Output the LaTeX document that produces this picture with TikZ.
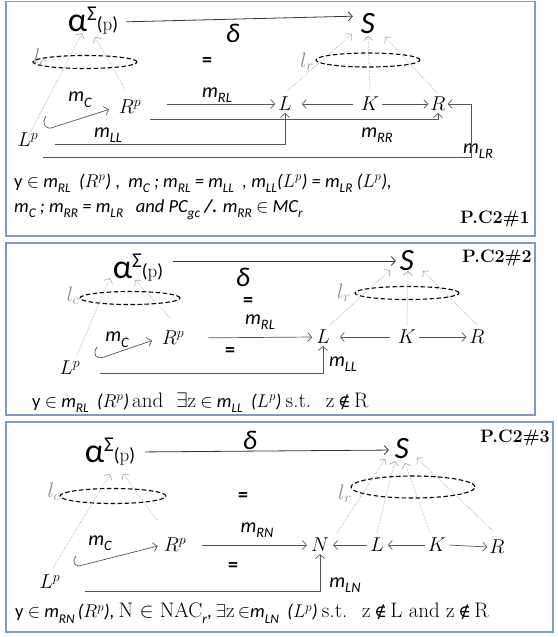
\RequirePackage{fix-cm}
\documentclass[tikz,border=0pt]{standalone}
\usepackage{fontspec}
\usepackage{graphicx}
\usetikzlibrary{arrows.meta,shapes.geometric}
\newfontfamily\cb{Carlito}
\newfontfamily\dvs{DejaVu Serif}
\definecolor{frame}{RGB}{125,155,195}
\definecolor{lncol}{RGB}{85,85,85}
\definecolor{dotcol}{RGB}{160,160,160}
\newcommand\sbs[1]{\raisebox{-0.28em}{\scalebox{0.72}{#1}}}
\newcommand\ms[1]{{\cb\itshape m\sbs{#1}}}
\newcommand\rmt[1]{{\rmfamily\fontsize{21}{22}\selectfont #1}}
\newcommand\nin{{\dvs\fontsize{17}{20}\selectfont ∉}}
\newcommand\alphasig{{\cb\fontsize{34}{34}\selectfont α}\raisebox{11pt}{\cb\fontsize{21}{21}\selectfont Σ}\raisebox{1pt}{\cb\fontsize{19}{19}\selectfont(\rmfamily p\cb)}}
\begin{document}
\begin{tikzpicture}[x=1pt,y=-1pt,
  panel/.style={draw=frame,line width=1.3pt},
  lab/.style={font={\cb\itshape\fontsize{20}{22}\selectfont},inner sep=0pt},
  obj/.style={font={\fontsize{20}{22}\selectfont},inner sep=2pt},
  gl/.style={font={\fontsize{21}{22}\selectfont},text=black!45,inner sep=0pt},
  eqs/.style={font={\cb\bfseries\fontsize{20}{20}\selectfont},inner sep=0pt},
  big/.style={font={\cb\itshape\fontsize{31}{32}\selectfont},inner sep=0pt},
  dlt/.style={font={\cb\itshape\fontsize{27}{28}\selectfont},inner sep=0pt},
  alph/.style={inner sep=0pt},
  txt/.style={font={\cb\fontsize{18.5}{21}\selectfont},inner sep=0pt,anchor=west},
  pc/.style={font={\bfseries\fontsize{18}{20}\selectfont},inner sep=0pt,anchor=east},
  ell/.style={draw,ellipse,dash pattern=on 4.5pt off 2.5pt,line width=1.1pt,inner sep=0pt},
  arr/.style={draw=lncol,line width=0.7pt,-{Straight Barb[length=4pt,width=9pt]}},
  garr/.style={draw=black!80,line width=0.8pt,-{Straight Barb[length=4pt,width=9pt]}},
  dot/.style={draw=dotcol,line width=0.6pt,densely dotted,-{Straight Barb[length=4pt,width=9pt]}},
  hook/.style={draw=lncol,line width=0.7pt,-{Straight Barb[length=4pt,width=9pt]}}]
\useasboundingbox (0,0) rectangle (557,637);
% ---------------- panel frames
\draw[panel] (6,1.5) rectangle (535,236);
\draw[panel] (6,243) rectangle (535,415);
\draw[panel] (6,422) rectangle (553,632);

% ================= PANEL 1
\node[alph] (al1) at (93,21) {\alphasig};
\node[big] (S1) at (368,24) {S};
\node[dlt] (dl1) at (233,33) {δ};
\node[eqs] (eq1) at (207,62) {=};
\node[lab] (mRL1) at (217,95) {\ms{RL}};
\node[ell,minimum width=104pt,minimum height=13pt] (ec1) at (85,62) {};
\node[gl] (lc1) at (40,58) {$l_c$};
\node[ell,minimum width=104pt,minimum height=14pt] (er1) at (368,60) {};
\node[gl] (lr1) at (307,62) {$l_r$};
\node[obj] (Lp1) at (28,140) {$L^p$};
\node[obj] (Rp1) at (130,107) {$R^p$};
\node[lab] (mC1) at (80,100) {\ms{C}};
\node[obj] (L1) at (285,104) {$L$};
\node[obj] (K1) at (370,104) {$K$};
\node[obj] (R1) at (438,104) {$R$};
\node[lab] (mLL1) at (108,135) {\ms{LL}};
\node[lab] (mRR1) at (377,135) {\ms{RR}};
\node[lab] (mLR1) at (478,151) {\ms{LR}};

\draw[garr,shorten <=8pt,shorten >=8pt] ([shift={(0,1)}]al1.east) -- ([shift={(0,-8)}]S1.west);
\draw[arr,shorten >=1pt] ([xshift=24pt]Rp1.east |- L1.west) -- (L1.west);
\draw[arr,shorten <=6pt,shorten >=8pt] (K1.west) -- (L1.east);
\draw[arr,shorten <=1pt,shorten >=0pt] (K1.east) -- (R1.west);
\coordinate (a1) at (150,119);
\draw[arr] (a1) -| (R1.south);
\coordinate (b1) at (55,144);
\draw[arr] (b1) -| (L1.south);
\coordinate (c1) at (43,157);
\draw[arr] (c1) -| ([xshift=24pt]R1.east) -- (R1.east);
\coordinate (h1) at (46,116);
\draw[hook,shorten >=8pt] (h1) .. controls (41,124) and (46,131) .. (54,127) -- (Rp1.west);
% dotted
\draw[dot] ([shift={(-1,8)}]Lp1.north) -- ([shift={(-11,12)}]al1.center);
\draw[dot] ([shift={(-5,-18)}]Rp1.center) -- ([shift={(2,16)}]al1.center);
\draw[dot] ([shift={(2,-13)}]L1.center) -- ([shift={(-16,10)}]S1.center);
\draw[dot] ([shift={(0,-13)}]K1.center) -- ([shift={(0,12)}]S1.center);
\draw[dot] ([shift={(-1,-11)}]R1.center) -- ([shift={(17,13)}]S1.center);

\node[txt] (tA1) at (14,183) {y $\in$ \ms{RL}\ \ \textit{(}$R^p$\textit{)} , \ \textit{\ms{C} ; \ms{RL} = \ms{LL} \ , \ms{LL}(}$L^p$\textit{) = \ms{LR} (}$L^p$\textit{),}};
\node[txt] (tB1) at (14,210) {\itshape \ms{C} ; \ms{RR} = \ms{LR} \ \ and PC\sbs{gc} \textbf{/.} \ms{RR} $\in$ MC\sbs{r}};
\node[pc] (pc1) at (530,219) {P.C2\#1};

% ================= PANEL 2
\node[alph] (al2) at (138,268) {\alphasig};
\node[big] (S2) at (407,261) {S};
\node[dlt] (dl2) at (243,277) {δ};
\node[pc] (pc2) at (532,258) {P.C2\#2};
\node[ell,minimum width=100pt,minimum height=13pt] (ec2) at (130,298) {};
\node[gl] (lc2) at (73,296) {$l_c$};
\node[ell,minimum width=104pt,minimum height=13pt] (er2) at (407,293) {};
\node[gl] (lr2) at (344,293) {$l_r$};
\node[eqs] (eq2a) at (248,302) {=};
\node[lab] (mRL2) at (260,322) {\ms{RL}};
\node[eqs] (eq2b) at (230,352) {=};
\node[lab] (mC2) at (117,340) {\ms{C}};
\node[obj] (Rp2) at (173,338) {$R^p$};
\node[obj] (Lp2) at (70,368) {$L^p$};
\node[obj] (L2) at (323,337) {$L$};
\node[obj] (K2) at (407,337) {$K$};
\node[obj] (R2) at (477,337) {$R$};
\node[lab] (mLL2) at (343,364) {\ms{LL}};

\draw[garr,shorten <=10pt,shorten >=4pt] ([shift={(0,-7)}]al2.east) -- ([shift={(0,0)}]S2.west);
\draw[arr,shorten <=22pt,shorten >=2pt] (Rp2.east) -- (L2.west);
\draw[arr,shorten <=6pt,shorten >=8pt] (K2.west) -- (L2.east);
\draw[arr,shorten <=1pt,shorten >=1pt] (K2.east) -- (R2.west);
\coordinate (b2) at (100,373);
\draw[arr] (b2) -| (L2.south);
\coordinate (h2) at (97,347);
\draw[hook,shorten >=8pt] (h2) .. controls (92,354) and (96,360) .. (104,357) -- (Rp2.west);
\draw[dot] ([shift={(7,-13)}]Lp2.center) -- ([shift={(-28,10)}]al2.center);
\draw[dot] ([shift={(-3,-20)}]Rp2.center) -- ([shift={(-3,12)}]al2.center);
\draw[dot] ([shift={(7,-12)}]L2.center) -- ([shift={(-17,9)}]S2.center);
\draw[dot] ([shift={(0,-12)}]K2.center) -- ([shift={(1,10)}]S2.center);
\draw[dot] ([shift={(0,-12)}]R2.center) -- ([shift={(16,10)}]S2.center);

\node[txt] (t2) at (32,403) {y $\in$ \ms{RL}\ \ \textit{(}$R^p$\textit{)}\,\rmt{and \ $\exists$z} $\in$ \ms{LL} \ \textit{(}$L^p$\textit{)}\ \rmt{s.t. \ z\,\nin\,R}};

% ================= PANEL 3
\node[alph] (al3) at (110,452) {\alphasig};
\node[big] (S3) at (402,449) {S};
\node[dlt] (dl3) at (250,440) {δ};
\node[pc] (pc3) at (550,438) {P.C2\#3};
\node[ell,minimum width=106pt,minimum height=15pt] (ec3) at (113,496) {};
\node[gl] (lc3) at (54,492) {$l_c$};
\node[ell,minimum width=124pt,minimum height=22pt] (er3) at (413,487) {};
\node[gl] (lr3) at (345,494) {$l_r$};
\node[eqs] (eq3a) at (243,497) {=};
\node[lab] (mRN3) at (257,530) {\ms{RN}};
\node[lab] (mC3) at (100,543) {\ms{C}};
\node[obj] (Rp3) at (175,545) {$R^p$};
\node[obj] (Lp3) at (50,582) {$L^p$};
\node[obj] (N3) at (320,545) {$N$};
\node[obj] (L3) at (377,545) {$L$};
\node[obj] (K3) at (437,545) {$K$};
\node[obj] (R3) at (497,547) {$R$};
\node[eqs] (eq3b) at (233,567) {=};
\node[lab] (mLN3) at (345,585) {\ms{LN}};

\draw[garr,shorten <=10pt,shorten >=6pt] (al3.east) -- ([shift={(0,1)}]S3.west);
\draw[arr,shorten <=14pt,shorten >=2pt] (Rp3.east) -- (N3.west);
\draw[arr,shorten <=1pt,shorten >=2pt] (L3.west) -- (N3.east);
\draw[arr,shorten <=1pt,shorten >=2pt] (K3.west) -- (L3.east);
\draw[arr,shorten <=1pt,shorten >=0pt] (K3.east) -- (R3.west);
\coordinate (b3) at (85,591);
\draw[arr] (b3) -| (N3.south);
\coordinate (h3) at (76,556);
\draw[hook,shorten >=4pt] (h3) .. controls (71,562) and (75,568) .. (83,565) -- (Rp3.west);
\draw[dot] ([shift={(3,-14)}]Lp3.center) -- ([shift={(0,22)}]al3.center);
\draw[dot] ([shift={(-18,-25)}]Rp3.center) -- ([shift={(13,22)}]al3.center);
\draw[dot] ([shift={(17,-12)}]N3.center) -- ([shift={(-17,10)}]S3.center);
\draw[dot] ([shift={(0,-12)}]L3.center) -- ([shift={(-7,12)}]S3.center);
\draw[dot] ([shift={(-7,-12)}]K3.center) -- ([shift={(3,14)}]S3.center);
\draw[dot] ([shift={(-4,-16)}]R3.center) -- ([shift={(15,9)}]S3.center);

\node[txt] (t3) at (15,613) {y $\in$ \ms{RN}\,\textit{(}$R^p$\textit{),} \rmt{N $\in$ NAC}\sbs{\textit{r}}, $\exists$\rmt{z}$\,\in$\ms{LN} \ \textit{(}$L^p$\textit{)}\ \rmt{s.t. \ z\,\nin\,L and z\,\nin\,R}};
\end{tikzpicture}
\end{document}
